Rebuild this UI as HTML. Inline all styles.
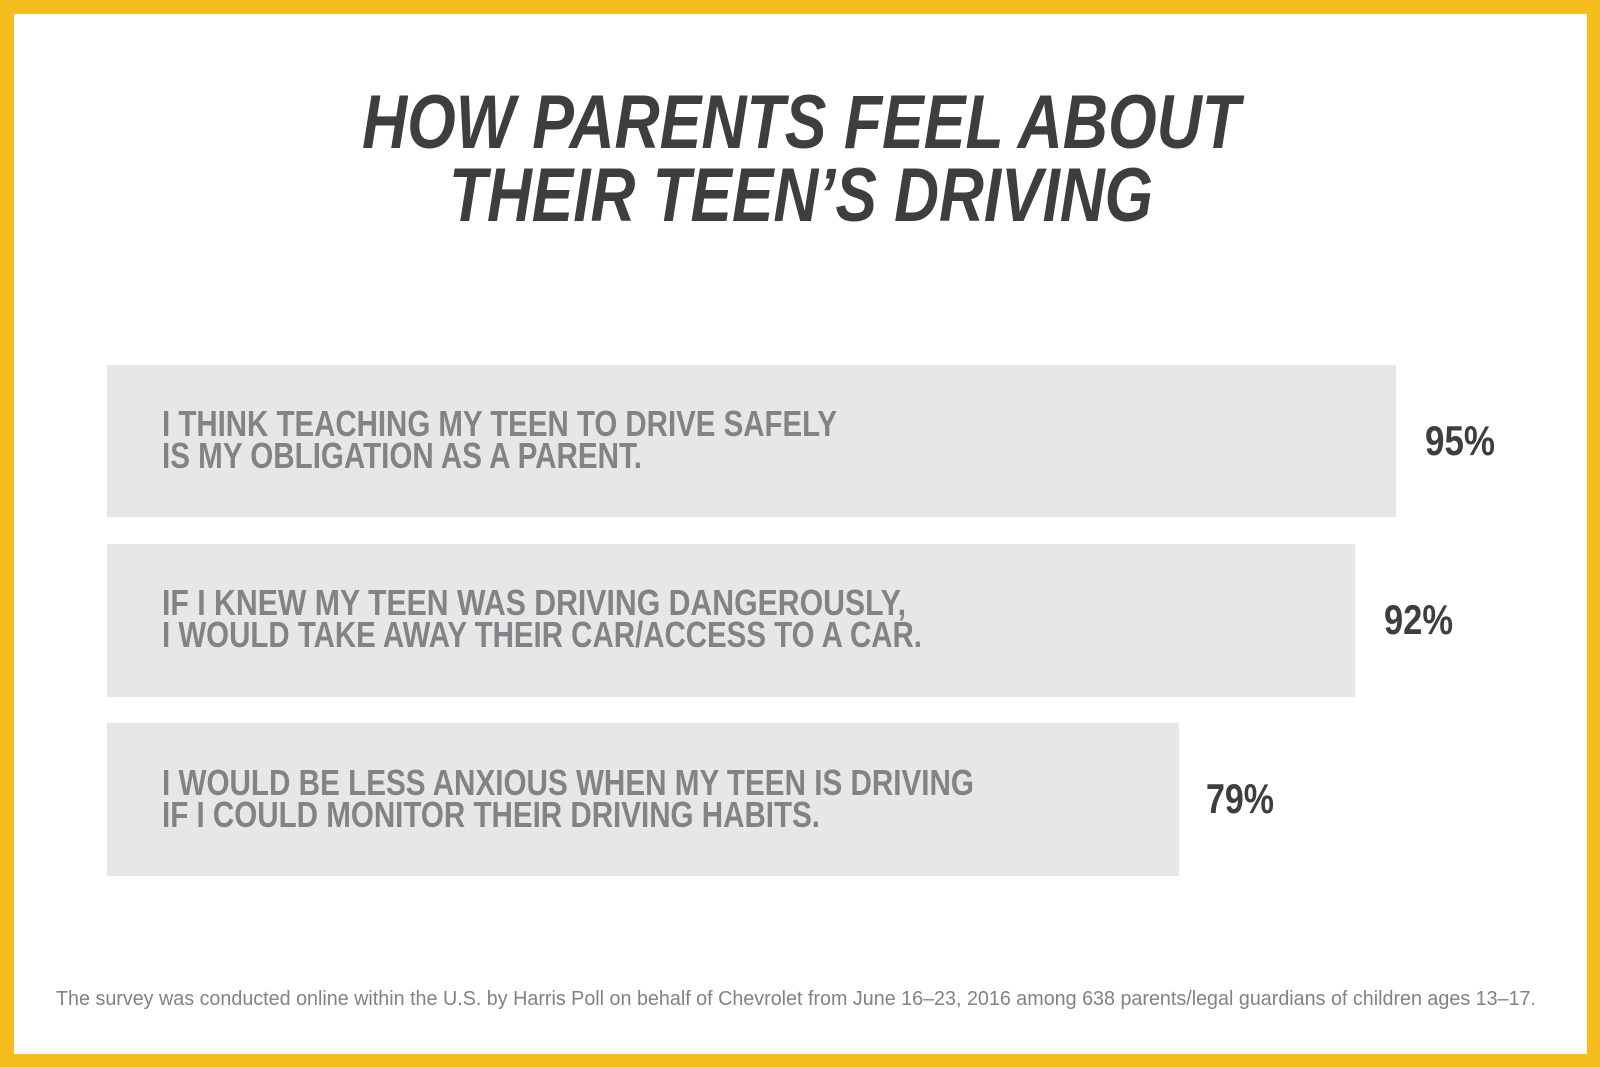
<!DOCTYPE html>
<html><head><meta charset="utf-8"><style>
html,body{margin:0;padding:0;background:#fff}
svg{display:block}
</style></head><body>
<svg width="1600" height="1067" viewBox="0 0 1600 1067" xmlns="http://www.w3.org/2000/svg">
<rect x="0" y="0" width="1600" height="1067" fill="#f5bd1d"/>
<rect x="14" y="14" width="1573" height="1040" fill="#ffffff"/>
<g font-family="Liberation Sans, sans-serif" font-weight="bold">
<text x="362" y="148" font-size="76" font-style="italic" fill="#3d3e40" textLength="878" lengthAdjust="spacingAndGlyphs">HOW PARENTS FEEL ABOUT</text>
<text x="449" y="221" font-size="76" font-style="italic" fill="#3d3e40" textLength="704" lengthAdjust="spacingAndGlyphs">THEIR TEEN’S DRIVING</text>

<rect x="107" y="365" width="1289" height="152" fill="#e5e7e8"/>
<rect x="107" y="544" width="1248" height="153" fill="#e5e7e8"/>
<rect x="107" y="723" width="1072" height="153" fill="#e5e7e8"/>

<g fill="#818385" font-size="36">
<text x="162" y="436" textLength="675" lengthAdjust="spacingAndGlyphs">I THINK TEACHING MY TEEN TO DRIVE SAFELY</text>
<text x="162" y="468" textLength="480" lengthAdjust="spacingAndGlyphs">IS MY OBLIGATION AS A PARENT.</text>
<text x="162" y="615" textLength="744" lengthAdjust="spacingAndGlyphs">IF I KNEW MY TEEN WAS DRIVING DANGEROUSLY,</text>
<text x="162" y="647" textLength="760" lengthAdjust="spacingAndGlyphs">I WOULD TAKE AWAY THEIR CAR/ACCESS TO A CAR.</text>
<text x="162" y="795" textLength="812" lengthAdjust="spacingAndGlyphs">I WOULD BE LESS ANXIOUS WHEN MY TEEN IS DRIVING</text>
<text x="162" y="827" textLength="658" lengthAdjust="spacingAndGlyphs">IF I COULD MONITOR THEIR DRIVING HABITS.</text>
</g>
<g fill="#3d3e40" font-size="42">
<text x="1425" y="455" textLength="70" lengthAdjust="spacingAndGlyphs">95%</text>
<text x="1384" y="634" textLength="69" lengthAdjust="spacingAndGlyphs">92%</text>
<text x="1206" y="813" textLength="68" lengthAdjust="spacingAndGlyphs">79%</text>
</g>
</g>
<text x="56" y="1005" font-family="Liberation Sans, sans-serif" font-size="20" fill="#808285" textLength="1480" lengthAdjust="spacingAndGlyphs">The survey was conducted online within the U.S. by Harris Poll on behalf of Chevrolet from June 16–23, 2016 among 638 parents/legal guardians of children ages 13–17.</text>
</svg>
</body></html>
